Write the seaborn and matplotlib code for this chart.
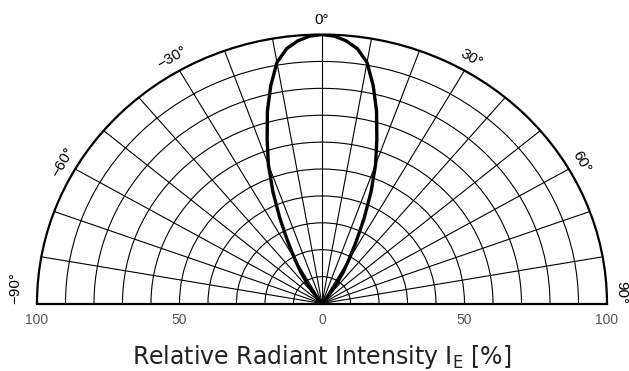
import numpy as np
import matplotlib
matplotlib.use("Agg")
import matplotlib.pyplot as plt
import seaborn as sns

# ======================
# DATA
# ======================
angle_deg = [-40, -37.5, -35, -32.5, -30, -27.5, -25, -22.5, -20, -17.5, -15,
             -12.5, -10, -7.5, -5, -2.5, 0, 2.5, 5, 7.5, 10, 12.5, 15, 17.5,
             20, 22.5, 25, 27.5, 30, 32.5, 35, 37.5, 40]
intensity = [0, 4, 9, 14, 19, 26, 35, 45, 55, 64, 74,
             83, 91, 95.5, 98, 99.5, 100, 99.5, 98, 95.5, 91, 83, 74, 64,
             55, 45, 35, 26, 19, 14, 9, 4, 0]

theta_ticks = [-90, -80, -70, -60, -50, -40, -30, -20, -10, 0,
               10, 20, 30, 40, 50, 60, 70, 80, 90]
theta_labels = ["\u221290°", "", "", "\u221260°", "", "", "\u221230°", "", "", "0°",
                "", "", "30°", "", "", "60°", "", "", "90°"]
r_rings = [10, 20, 30, 40, 50, 60, 70, 80, 90]

bottom_ticks = [-100, -50, 0, 50, 100]
bottom_labels = ["100", "50", "0", "50", "100"]

# ======================
# STYLE
# ======================
sns.set_theme(style="white")
plt.rcParams["font.family"] = ["DejaVu Sans"]

fig = plt.figure(figsize=(6.29, 3.71), dpi=100)

# polar half-disk, stretched slightly like the original
ax = fig.add_axes([0.0588, -0.1806, 0.9062, 1.450], projection="polar")
ax.set_aspect("auto")

sns.lineplot(x=np.deg2rad(angle_deg), y=intensity, ax=ax,
             color="black", linewidth=2.4, sort=False)

ax.set_theta_zero_location("N")
ax.set_theta_direction(-1)
ax.set_thetamin(-90)
ax.set_thetamax(90)
ax.set_rlim(0, 100)

ax.set_thetagrids(theta_ticks, theta_labels, fontsize=11,
                  family="Liberation Sans", color="black")
ax.set_rgrids(r_rings, labels=[""] * len(r_rings))
ax.tick_params(axis="x", labelrotation="auto", pad=-2.5)
ax.grid(True, color="black", linewidth=0.8)
ax.set_xlabel("")
ax.set_ylabel("")

for side in ["polar", "start", "end"]:
    ax.spines[side].set_color("black")
    ax.spines[side].set_linewidth(1.6)

# the two end labels sit just above the baseline
end_labels = ax.xaxis.get_majorticklabels()
end_labels[0].set_va("bottom")
end_labels[0].set_ha("left")
end_labels[-1].set_ha("right")

# ======================
# BOTTOM SCALE
# ======================
ax2 = fig.add_axes([0.0588, 0.182, 0.9062, 0.01])
ax2.patch.set_alpha(0)
for s in ax2.spines.values():
    s.set_visible(False)
ax2.set_xlim(-100, 100)
ax2.set_yticks([])
ax2.set_xticks(bottom_ticks, bottom_labels, fontfamily="Liberation Sans")
ax2.tick_params(axis="x", length=0, pad=6.5, labelsize=10, labelcolor="#555555")
ax2.set_xlabel(r"Relative Radiant Intensity I$_\mathregular{E}$ [%]",
               fontsize=17, color="#222222", labelpad=12)

fig.savefig("out.png", dpi=100)
